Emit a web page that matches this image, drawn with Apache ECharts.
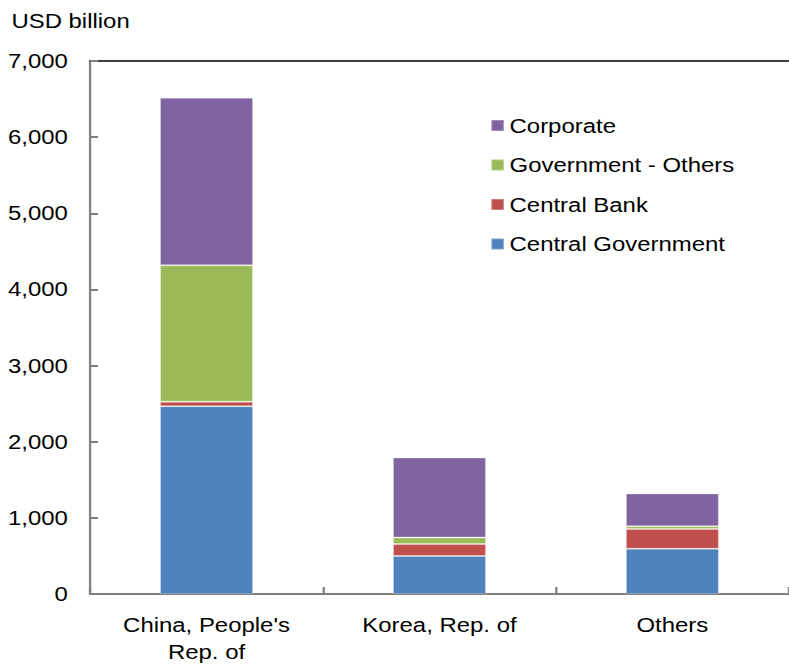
<!DOCTYPE html>
<html>
<head>
<meta charset="utf-8">
<script src="https://cdn.jsdelivr.net/npm/echarts@6/dist/echarts.min.js"></script>
<style>
  html, body { margin: 0; padding: 0; background: #fff; overflow: hidden; }
  #wrap { width: 789px; height: 666px; overflow: hidden; }
  /* the chart is laid out narrower and widened horizontally, giving the wide lettering */
  #chart { width: 692px; height: 666px; transform: scaleX(1.14); transform-origin: 0 0; }
</style>
</head>
<body>
<div id="wrap"><div id="chart"></div></div>
<script>
// Outstanding debt by holder sector, USD billion
const categories = ["China, People's\nRep. of", "Korea, Rep. of", "Others"];
const centralGovernment = [2465, 500, 593];
const centralBank = [60, 158, 261];
const governmentOthers = [1793, 84, 36];
const corporate = [2198, 1050, 431];
const yTicks = { min: 0, max: 7000, interval: 1000 };

const FONT = '"Liberation Sans", Arial, sans-serif';
const FS = 21;
const colors = {
  'Central Government': '#4F81BD',
  'Central Bank': '#C0504D',
  'Government - Others': '#9BBB59',
  'Corporate': '#8064A2'
};

function barSeries(name, data) {
  return {
    name: name,
    type: 'bar',
    stack: 'total',
    data: data,
    barWidth: '40%',
    itemStyle: {
      color: colors[name],
      borderColor: 'rgba(255,255,255,0.25)',
      borderWidth: 1
    },
    emphasis: { disabled: true }
  };
}

const chart = echarts.init(document.getElementById('chart'), null, { renderer: 'svg' });
chart.setOption({
  animation: false,
  backgroundColor: '#ffffff',
  textStyle: { fontFamily: FONT },
  title: {
    text: 'USD billion',
    left: 10,
    top: 10,
    padding: 0,
    textStyle: { fontFamily: FONT, fontSize: FS, fontWeight: 'normal', color: '#000' }
  },
  legend: {
    orient: 'vertical',
    left: 430,
    top: 115,
    padding: 0,
    itemWidth: 11,
    itemHeight: 11,
    itemGap: 18.5,
    icon: 'rect',
    data: ['Corporate', 'Government - Others', 'Central Bank', 'Central Government'],
    textStyle: { fontFamily: FONT, fontSize: FS, color: '#000' }
  },
  grid: { left: 79, right: -3, top: 61, bottom: 70, containLabel: false },
  xAxis: [
    {
      type: 'category',
      data: categories,
      axisLine: { lineStyle: { color: '#808080', width: 2 } },
      axisTick: { show: true, inside: true, length: 7, lineStyle: { color: '#808080', width: 2 } },
      axisLabel: { fontFamily: FONT, fontSize: FS, color: '#000', margin: 18, lineHeight: 27, interval: 0 }
    },
    {
      type: 'category',
      data: categories,
      position: 'top',
      axisLine: { show: true, lineStyle: { color: '#000', width: 1.5 } },
      axisTick: { show: false },
      axisLabel: { show: false }
    }
  ],
  yAxis: {
    type: 'value',
    min: yTicks.min,
    max: yTicks.max,
    interval: yTicks.interval,
    splitLine: { show: false },
    axisLine: { show: true, lineStyle: { color: '#808080', width: 2 } },
    axisTick: { show: true, inside: true, length: 7, lineStyle: { color: '#808080', width: 2 } },
    axisLabel: {
      fontFamily: FONT, fontSize: FS, color: '#000', margin: 19.5,
      formatter: v => v.toLocaleString('en-US')
    }
  },
  series: [
    barSeries('Central Government', centralGovernment),
    barSeries('Central Bank', centralBank),
    barSeries('Government - Others', governmentOthers),
    barSeries('Corporate', corporate)
  ]
});
</script>
</body>
</html>
